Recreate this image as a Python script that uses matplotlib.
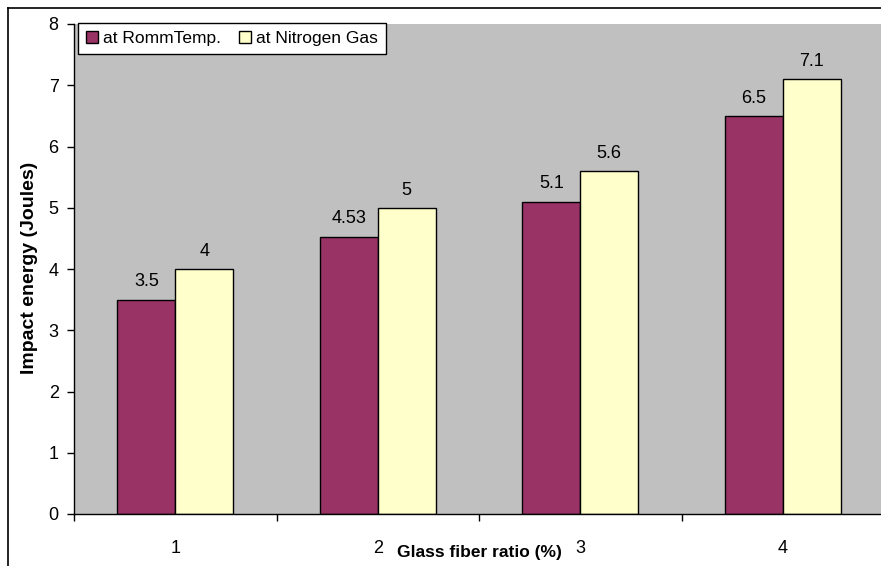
import numpy as np
import matplotlib.pyplot as plt
from matplotlib.lines import Line2D

plt.rcParams['font.family'] = ['Liberation Sans', 'DejaVu Sans']

ratios = ['1', '2', '3', '4']
room_temp = [3.5, 4.53, 5.1, 6.5]
nitrogen = [4, 5, 5.6, 7.1]
room_lbl = ['3.5', '4.53', '5.1', '6.5']
nitro_lbl = ['4', '5', '5.6', '7.1']

W, H = 881, 566
fig = plt.figure(figsize=(W / 100, H / 100), dpi=100)
ax = fig.add_axes([74 / W, 1 - 514 / H, 810 / W, 490 / H])
ax.set_facecolor('#c0c0c0')

x = np.arange(len(ratios))
w = 0.286
b1 = ax.bar(x - w / 2, room_temp, w, color='#993366', edgecolor='black', linewidth=1,
            label='at RommTemp.')
b2 = ax.bar(x + w / 2, nitrogen, w, color='#ffffcc', edgecolor='black', linewidth=1,
            label='at Nitrogen Gas')

for bars, labels in ((b1, room_lbl), (b2, nitro_lbl)):
    for r, t in zip(bars, labels):
        ax.text(r.get_x() + r.get_width() / 2, r.get_height() + 0.15, t,
                ha='center', va='bottom', fontsize=13)

ax.set_xlim(-0.5, 3.5)
ax.set_ylim(0, 8)
ax.set_yticks(range(0, 9))
ax.tick_params(axis='y', labelsize=13, length=5, width=1, direction='out', pad=6)

# category boundaries get tick marks, labels sit in the middle
ax.set_xticks(np.arange(-0.5, 4, 1))
ax.set_xticklabels([])
ax.set_xticks(x, minor=True)
ax.set_xticklabels(ratios, minor=True, fontsize=13)
ax.tick_params(axis='x', which='major', length=5, width=1, direction='out')
ax.tick_params(axis='x', which='minor', length=0, pad=19)

for s in ('top', 'right'):
    ax.spines[s].set_visible(False)
ax.spines['left'].set_linewidth(1)
ax.spines['bottom'].set_linewidth(1)

fig.text(479 / W, 1 - 552 / H, 'Glass fiber ratio (%)', ha='center', va='center',
         fontsize=12.5, fontweight='bold')
fig.text(30 / W, 1 - 268 / H, 'Impact energy (Joules)', ha='center', va='center',
         rotation=90, fontsize=14, fontweight='bold')

leg = ax.legend(loc='upper left', bbox_to_anchor=(4 / 810, 1 + 1 / 490), ncol=2,
                fontsize=12.5, frameon=True, fancybox=False, borderaxespad=0,
                handlelength=0.7, handleheight=0.7, handletextpad=0.3,
                columnspacing=1.0, borderpad=0.45)
leg.get_frame().set_edgecolor('black')
leg.get_frame().set_linewidth(1)
leg.get_frame().set_facecolor('white')
leg.get_frame().set_alpha(1)

# outer chart border (left and top edges visible)
fig.add_artist(Line2D([7.5 / W, 7.5 / W], [0, 1 - 8 / H], color='black', lw=1.2,
                      transform=fig.transFigure))
fig.add_artist(Line2D([7.5 / W, 1], [1 - 8 / H, 1 - 8 / H], color='black', lw=1.2,
                      transform=fig.transFigure))

fig.savefig('out.png', dpi=100)
